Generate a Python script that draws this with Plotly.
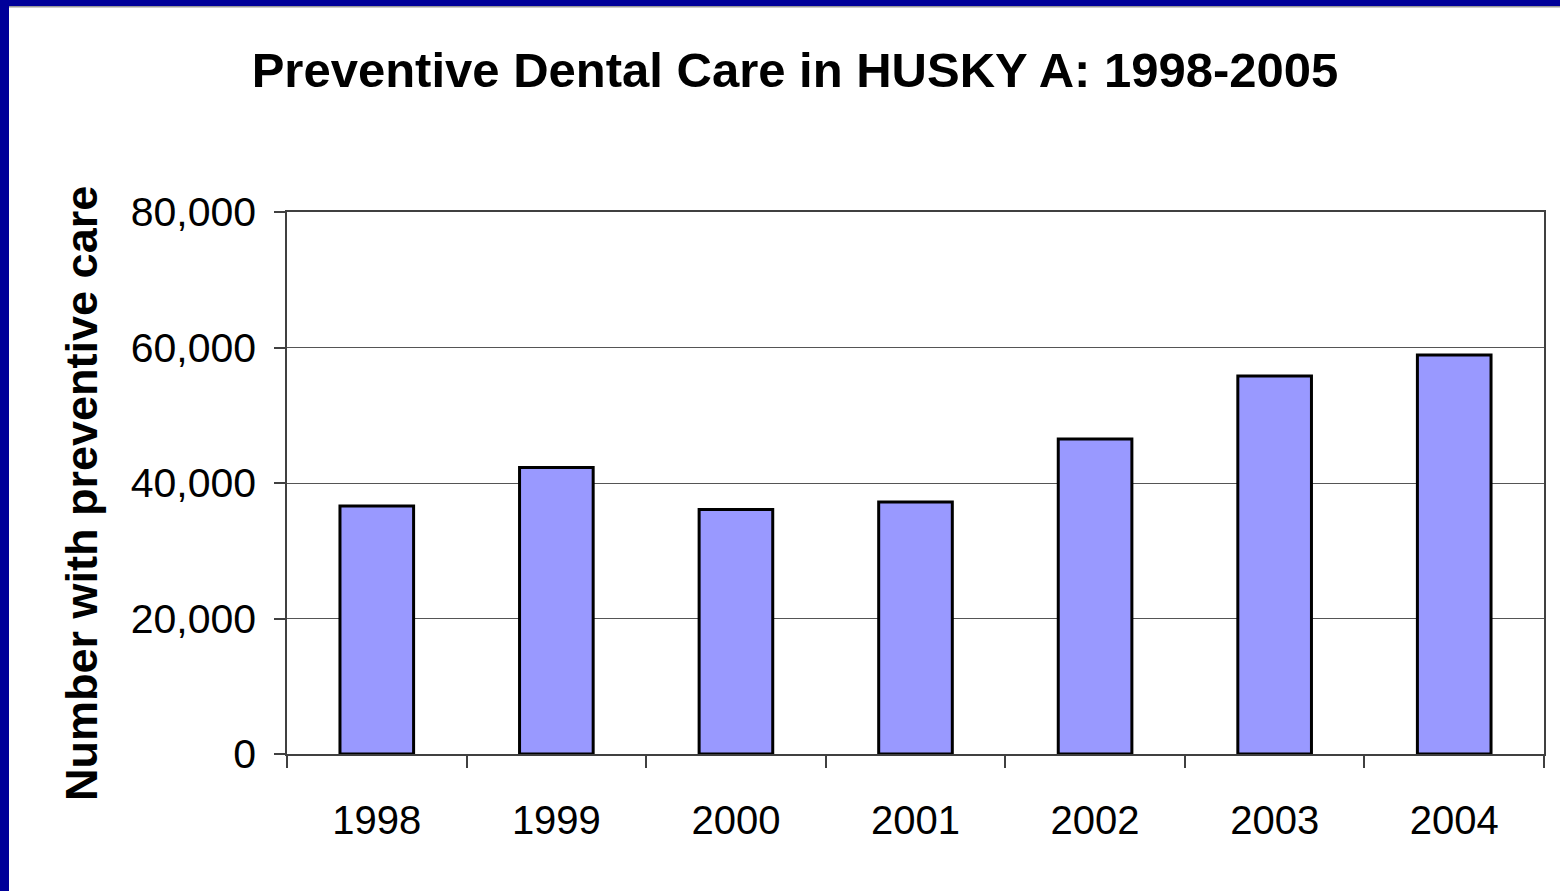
import plotly.graph_objects as go

years = ["1998", "1999", "2000", "2001", "2002", "2003", "2004"]
preventive = [36600, 42300, 36100, 37200, 46500, 55800, 58900]
y_ticks = [0, 20000, 40000, 60000, 80000]
y_tick_labels = ["0", "20,000", "40,000", "60,000", "80,000"]

W, H = 1560, 891
L, R, T, B = 287, 16, 212, 137
pw, ph = W - L - R, H - T - B

def px_x(x):
    return (x - L) / pw

def px_y(y):
    return (H - B - y) / ph

fig = go.Figure()
fig.add_trace(go.Bar(
    x=years, y=preventive,
    marker=dict(color="#9999FF", line=dict(color="#000000", width=3)),
    width=0.41,
))

font = "Liberation Sans, Arial, sans-serif"
fig.update_layout(
    width=W, height=H,
    margin=dict(l=L, r=R, t=T, b=B, pad=0),
    paper_bgcolor="#FFFFFF", plot_bgcolor="#FFFFFF",
    showlegend=False,
    title=dict(text="<b>Preventive Dental Care in HUSKY A: 1998-2005</b>",
               x=795 / W, xanchor="center", y=1 - 70 / H, yanchor="middle",
               font=dict(family=font, size=49, color="#000000")),
    font=dict(family=font, color="#000000"),
)
fig.update_xaxes(
    type="category", showgrid=False,
    showline=True, linecolor="#404040", linewidth=1.5, mirror=True,
    ticks="outside", tickson="boundaries", ticklen=12, tickcolor="#404040", tickwidth=1.5,
    tickfont=dict(family=font, size=40, color="#000000"),
    ticklabelstandoff=30,
)
fig.update_yaxes(
    range=[0, 80000], tickvals=y_ticks, ticktext=y_tick_labels,
    showgrid=True, gridcolor="#555555", gridwidth=1,
    showline=True, linecolor="#404040", linewidth=1.5, mirror=True,
    ticks="outside", ticklen=11, tickcolor="#404040", tickwidth=1.5,
    tickfont=dict(family=font, size=41, color="#000000"),
    ticklabelstandoff=10,
    zeroline=False,
)

fig.add_annotation(text="<b>Number with preventive care</b>", textangle=-90,
                   xref="paper", yref="paper", x=px_x(81), y=px_y(494),
                   xanchor="center", yanchor="middle", showarrow=False,
                   font=dict(family=font, size=45, color="#000000"))

# slide border decoration (blue frame top and left)
fig.add_shape(type="rect", xref="paper", yref="paper",
              x0=px_x(0), x1=px_x(W), y0=px_y(0), y1=px_y(6),
              fillcolor="#000099", line=dict(width=0), layer="above")
fig.add_shape(type="rect", xref="paper", yref="paper",
              x0=px_x(0), x1=px_x(W), y0=px_y(6), y1=px_y(7.5),
              fillcolor="#9a9a9a", line=dict(width=0), layer="above")
fig.add_shape(type="rect", xref="paper", yref="paper",
              x0=px_x(0), x1=px_x(9), y0=px_y(0), y1=px_y(H),
              fillcolor="#000099", line=dict(width=0), layer="above")

fig.write_html("out.html")
